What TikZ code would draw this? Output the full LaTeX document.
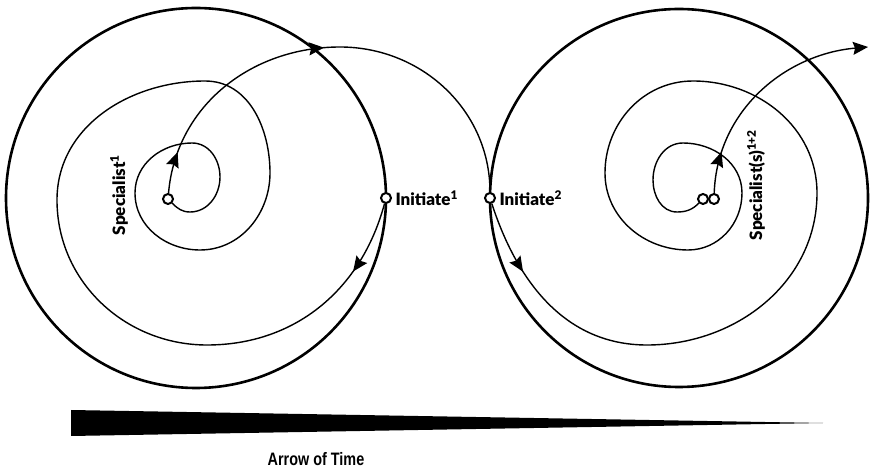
\documentclass[tikz,border=0pt]{standalone}
\usepackage{fontspec}
\setmainfont{Lato}
\newfontfamily\lblfont{Lato Black}
\newfontfamily\timefont[FakeStretch=0.8]{Liberation Sans}
\usetikzlibrary{arrows.meta,decorations.markings}

\tikzset{
  ring/.style={line width=2.6pt},
  trail/.style={line width=1.4pt},
  dot/.style={circle,draw,line width=2pt,fill=white,inner sep=0pt,minimum size=10pt},
  arrowat/.style={postaction={decorate,decoration={markings,
      mark=at position #1 with {\arrow{Stealth[length=15pt,width=13pt,inset=2pt]}}}}},
  lbl/.style={font=\lblfont\fontsize{17}{20}\selectfont},
}

\begin{document}
\begin{tikzpicture}[x=1pt,y=1pt]
\useasboundingbox (0,0) rectangle (871,469);

% the two outer rings
\draw[ring] (196,271) circle (190);
\draw[ring] (679,271) circle (189);

% points on the way
\node[dot] (spec1) at (168,270) {};
\node[dot] (init1) at (386,271) {};
\node[dot] (init2) at (490,271) {};
\node[dot] (spec2a) at (703,270) {};
\node[dot] (spec2b) at (714,270) {};
\coordinate (exit) at (868,422);

\node[lbl,right=0pt] (init1lbl) at (init1.east) {Initiate\textsuperscript{1}};
\node[lbl,right=0pt] (init2lbl) at (init2.east) {Initiate\textsuperscript{2}};
\node[lbl,rotate=90] (spec1lbl) at (119,274) {Specialist\textsuperscript{1}};
\node[lbl,rotate=90] (spec2lbl) at (756,284) {Specialist(s)\textsuperscript{1+2}};

% spiral in to specialist 1
\draw[trail,arrowat=75pt] (init1) to[out=-105,in=0] (207,124)
  to[out=180,in=-90] (57,269) to[out=90,in=180] (205,388)
  to[out=0,in=90] (270,296) to[out=-90,in=0] (200,219)
  to[out=180,in=-90] (135,276) to[out=90,in=180] (192,326)
  to[out=0,in=90] (220,292) to[out=-90,in=0] (190,257)
  to[out=180,in=-45] (spec1);

% specialist 1 over to initiate 2
\draw[trail,arrowat=42pt,arrowat=232pt] (spec1) to[out=85,in=180] (340,422)
  to[out=0,in=90] (init2);

% spiral in to the specialists
\draw[trail,arrowat=75pt] (init2) to[out=-72,in=180] (647,124)
  to[out=0,in=-90] (817,276) to[out=90,in=0] (693,388)
  to[out=180,in=90] (605,296) to[out=-90,in=180] (688,219)
  to[out=0,in=-90] (742,276) to[out=90,in=0] (683,326)
  to[out=180,in=90] (653,289) to[out=-90,in=180] (677,257)
  to[out=0,in=-135] (spec2a);

% and out again
\draw[trail,arrowat=42pt,-{Stealth[length=15pt,width=13pt,inset=2pt]}] (spec2b)
  to[out=88,in=185] (exit);

% arrow of time
\fill (71,59) -- (823,46) -- (71,33) -- cycle;
\node[font=\timefont\bfseries\fontsize{18}{20}\selectfont] (time) at (316,10) {Arrow of Time};
\end{tikzpicture}
\end{document}
